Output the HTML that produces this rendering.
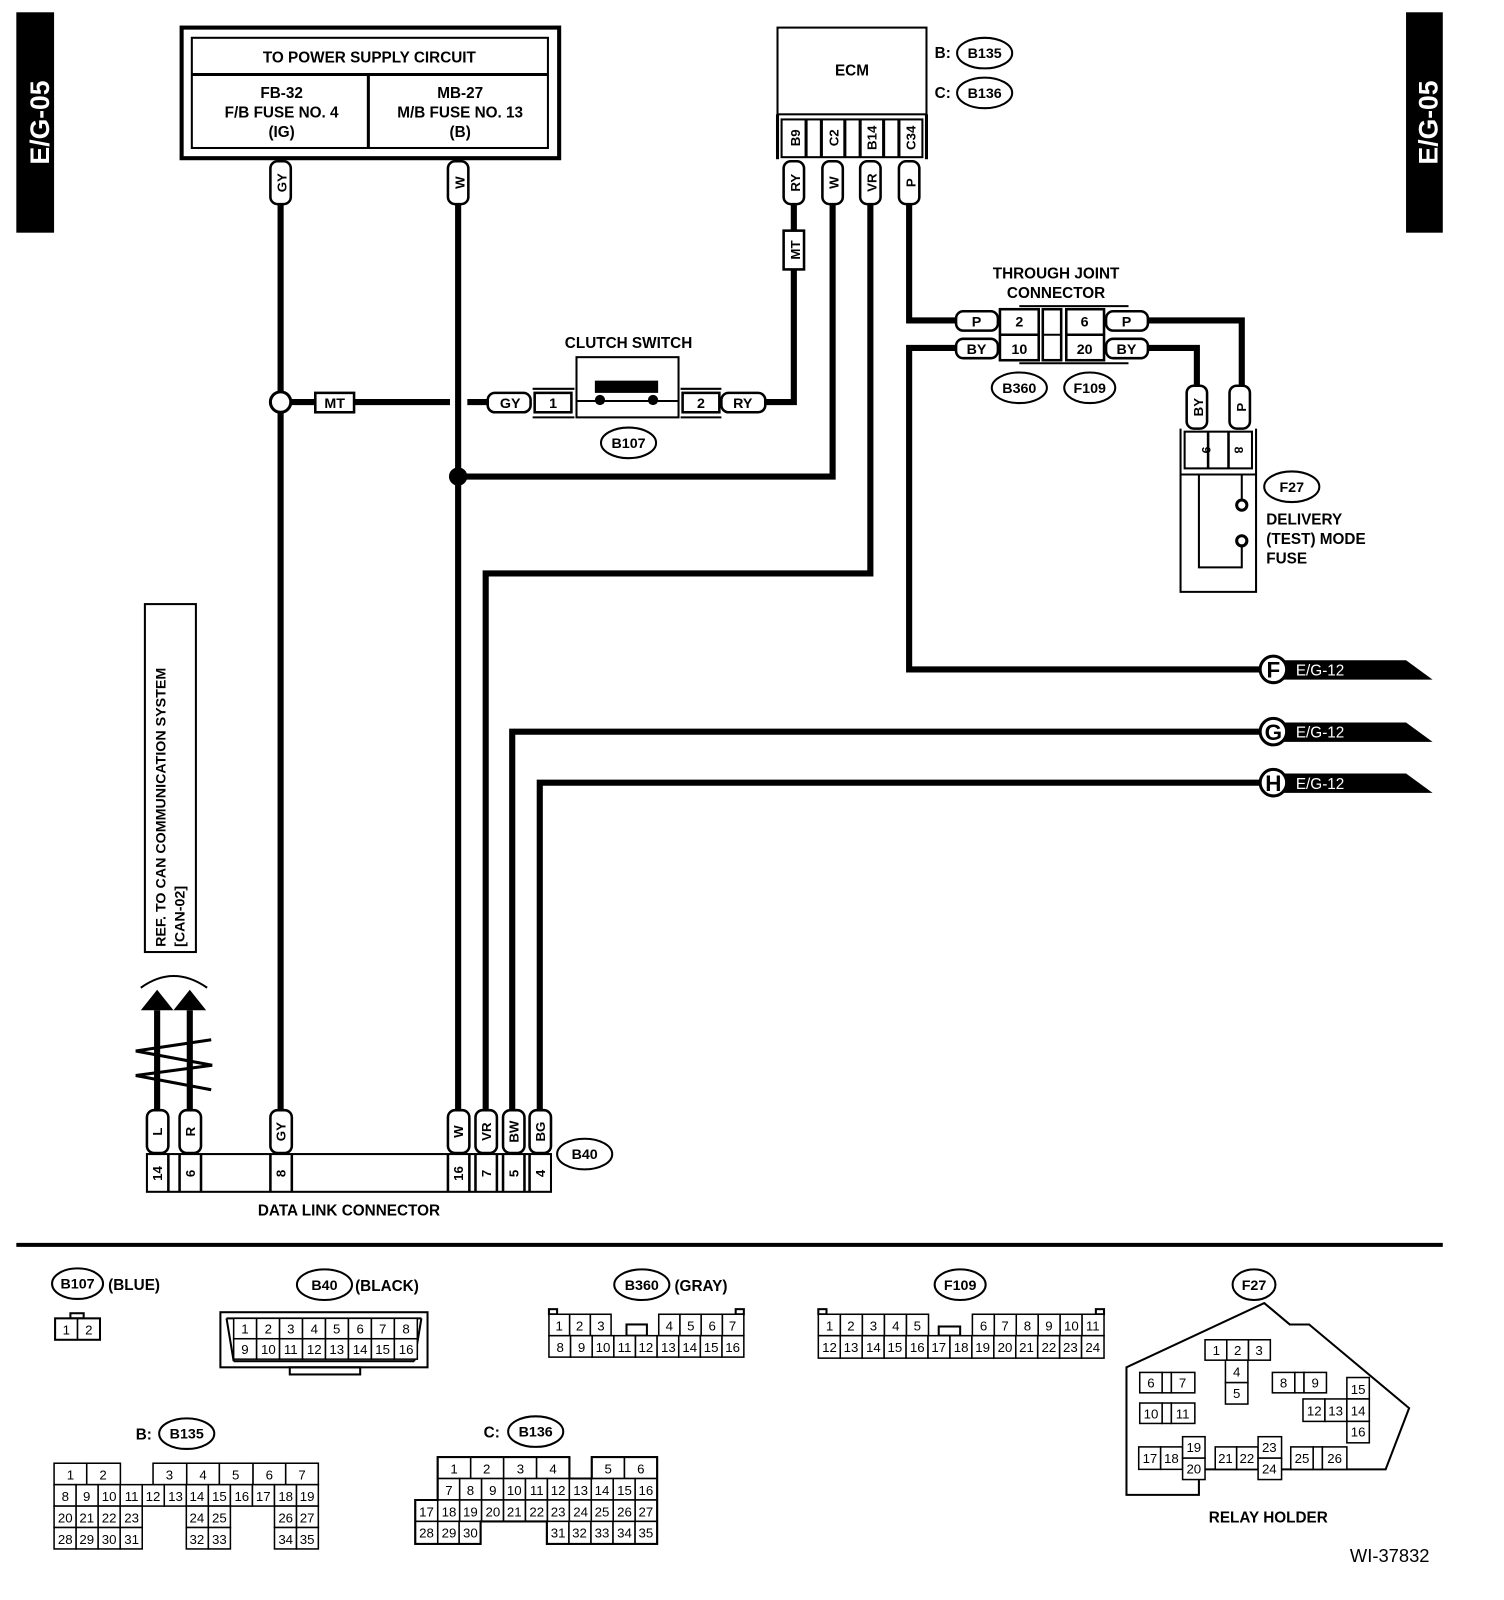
<!DOCTYPE html>
<html><head><meta charset="utf-8"><style>
html,body{margin:0;padding:0;background:#fff;}
svg{display:block}
text{font-family:"Liberation Sans",sans-serif;font-weight:bold;fill:#000}
.s{fill:none;stroke:#000;stroke-width:2}
.w{fill:none;stroke:#000;stroke-width:6}
.p{fill:#fff;stroke:#000;stroke-width:2.5}
.c rect{fill:#fff;stroke:#000;stroke-width:1.5}
.c text{font-weight:normal;font-size:13px;text-anchor:middle}
.m{text-anchor:middle}
</style></head><body>
<svg width="1504" height="1600" viewBox="0 0 1474 1568" xmlns="http://www.w3.org/2000/svg">
<!-- side tabs -->
<rect x="16" y="12" width="37" height="216" fill="#000"/>
<text transform="translate(48,120) rotate(-90)" class="m" font-size="26" style="fill:#fff">E/G-05</text>
<rect x="1378" y="12" width="36" height="216" fill="#000"/>
<text transform="translate(1409,120) rotate(-90)" class="m" font-size="26" style="fill:#fff">E/G-05</text>

<!-- power box -->
<rect x="178" y="27" width="370" height="128" fill="none" stroke="#000" stroke-width="4"/>
<rect x="188" y="37" width="349" height="108" class="s" stroke-width="3"/>
<line x1="188" y1="73" x2="537" y2="73" stroke="#000" stroke-width="3"/>
<line x1="361" y1="73" x2="361" y2="145" stroke="#000" stroke-width="3"/>
<text x="362" y="61" class="m" font-size="15">TO POWER SUPPLY CIRCUIT</text>
<text x="276" y="96" class="m" font-size="15">FB-32</text>
<text x="276" y="115" class="m" font-size="15">F/B FUSE NO. 4</text>
<text x="276" y="134" class="m" font-size="15">(IG)</text>
<text x="451" y="96" class="m" font-size="15">MB-27</text>
<text x="451" y="115" class="m" font-size="15">M/B FUSE NO. 13</text>
<text x="451" y="134" class="m" font-size="15">(B)</text>

<!-- main wires -->
<g class="w">
<polyline points="275,200 275,1088"/>
<polyline points="449,200 449,1088"/>
<polyline points="275,394 441,394"/>
<polyline points="458,394 480,394"/>
<polyline points="750,394 778,394 778,200"/>
<polyline points="816,200 816,467 449,467"/>
<polyline points="853,200 853,562 476,562 476,1088"/>
<polyline points="891,200 891,314 937,314"/>
<polyline points="937,341 891,341 891,656 1240,656"/>
<polyline points="1125,314 1217,314 1217,380"/>
<polyline points="1125,341 1173,341 1173,380"/>
<polyline points="1240,717 502,717 502,1088"/>
<polyline points="1240,767 529,767 529,1088"/>
<polyline points="154,990 154,1088"/>
<polyline points="186,990 186,1088"/>
</g>
<circle cx="275" cy="394" r="10" fill="#fff" stroke="#000" stroke-width="3"/>
<circle cx="449" cy="467" r="9" fill="#000"/>
<rect x="309" y="385" width="38" height="19" class="p"/>
<text x="328" y="400" class="m" font-size="14">MT</text>

<!-- vertical pills top -->
<g>
<rect x="265" y="158" width="20" height="42" rx="7" class="p"/>
<text transform="translate(281,179) rotate(-90)" class="m" font-size="13">GY</text>
<rect x="439" y="158" width="20" height="42" rx="7" class="p"/>
<text transform="translate(455,179) rotate(-90)" class="m" font-size="13">W</text>
<rect x="768" y="158" width="20" height="42" rx="7" class="p"/>
<text transform="translate(784,179) rotate(-90)" class="m" font-size="13">RY</text>
<rect x="806" y="158" width="20" height="42" rx="7" class="p"/>
<text transform="translate(822,179) rotate(-90)" class="m" font-size="13">W</text>
<rect x="843" y="158" width="20" height="42" rx="7" class="p"/>
<text transform="translate(859,179) rotate(-90)" class="m" font-size="13">VR</text>
<rect x="881" y="158" width="20" height="42" rx="7" class="p"/>
<text transform="translate(897,179) rotate(-90)" class="m" font-size="13">P</text>
<rect x="768" y="226" width="20" height="38" class="p"/>
<text transform="translate(784,245) rotate(-90)" class="m" font-size="13">MT</text>
</g>

<!-- ECM -->
<rect x="762" y="27" width="146" height="85" class="s" stroke-width="3"/>
<text x="835" y="74" class="m" font-size="15">ECM</text>
<line x1="762" y1="112" x2="762" y2="156" stroke="#000" stroke-width="3"/>
<line x1="908" y1="112" x2="908" y2="156" stroke="#000" stroke-width="3"/>
<rect x="766" y="117" width="138" height="37" class="s" stroke-width="3"/>
<line x1="790" y1="117" x2="790" y2="154" stroke="#000" stroke-width="3"/>
<line x1="805" y1="117" x2="805" y2="154" stroke="#000" stroke-width="3"/>
<line x1="828" y1="117" x2="828" y2="154" stroke="#000" stroke-width="3"/>
<line x1="843" y1="117" x2="843" y2="154" stroke="#000" stroke-width="3"/>
<line x1="866" y1="117" x2="866" y2="154" stroke="#000" stroke-width="3"/>
<line x1="881" y1="117" x2="881" y2="154" stroke="#000" stroke-width="3"/>
<text transform="translate(784,135) rotate(-90)" class="m" font-size="13">B9</text>
<text transform="translate(822,135) rotate(-90)" class="m" font-size="13">C2</text>
<text transform="translate(859,135) rotate(-90)" class="m" font-size="13">B14</text>
<text transform="translate(897,135) rotate(-90)" class="m" font-size="13">C34</text>
<text x="916" y="57" font-size="15">B:</text>
<ellipse cx="965" cy="52" rx="27" ry="15" class="s" stroke-width="2.5"/>
<text x="965" y="57" class="m" font-size="14">B135</text>
<text x="916" y="96" font-size="15">C:</text>
<ellipse cx="965" cy="91" rx="27" ry="15" class="s" stroke-width="2.5"/>
<text x="965" y="96" class="m" font-size="14">B136</text>

<!-- clutch switch -->
<text x="616" y="341" class="m" font-size="15">CLUTCH SWITCH</text>
<rect x="478" y="385" width="42" height="19" rx="7" class="p"/>
<text x="500" y="400" class="m" font-size="14">GY</text>
<line x1="522" y1="381" x2="563" y2="381" stroke="#000" stroke-width="2"/>
<line x1="522" y1="409" x2="563" y2="409" stroke="#000" stroke-width="2"/>
<rect x="524" y="385" width="36" height="19" class="p"/>
<text x="542" y="400" class="m" font-size="14">1</text>
<rect x="565" y="350" width="100" height="59" class="s" stroke-width="2.5"/>
<line x1="565" y1="393" x2="665" y2="393" stroke="#000" stroke-width="2"/>
<rect x="583" y="373" width="62" height="12" fill="#000"/>
<circle cx="588" cy="392" r="5" fill="#000"/><circle cx="640" cy="392" r="5" fill="#000"/>
<line x1="667" y1="381" x2="707" y2="381" stroke="#000" stroke-width="2"/>
<line x1="667" y1="409" x2="707" y2="409" stroke="#000" stroke-width="2"/>
<rect x="669" y="385" width="36" height="19" class="p"/>
<text x="687" y="400" class="m" font-size="14">2</text>
<rect x="707" y="385" width="43" height="19" rx="7" class="p"/>
<text x="728" y="400" class="m" font-size="14">RY</text>
<ellipse cx="616" cy="434" rx="27" ry="15" class="s" stroke-width="2.5"/>
<text x="616" y="439" class="m" font-size="14">B107</text>

<!-- through joint -->
<text x="1035" y="273" class="m" font-size="15">THROUGH JOINT</text>
<text x="1035" y="292" class="m" font-size="15">CONNECTOR</text>
<rect x="937" y="305" width="41" height="19" rx="7" class="p"/>
<text x="957" y="320" class="m" font-size="14">P</text>
<rect x="937" y="332" width="41" height="19" rx="7" class="p"/>
<text x="957" y="347" class="m" font-size="14">BY</text>
<rect x="1084" y="305" width="41" height="19" rx="7" class="p"/>
<text x="1104" y="320" class="m" font-size="14">P</text>
<rect x="1084" y="332" width="41" height="19" rx="7" class="p"/>
<text x="1104" y="347" class="m" font-size="14">BY</text>
<line x1="999" y1="300" x2="1106" y2="300" stroke="#000" stroke-width="2"/>
<line x1="999" y1="356" x2="1106" y2="356" stroke="#000" stroke-width="2"/>
<rect x="980" y="303" width="38" height="50" class="p"/>
<line x1="980" y1="328" x2="1018" y2="328" stroke="#000" stroke-width="2.5"/>
<rect x="1022" y="303" width="18" height="50" class="p"/>
<line x1="1022" y1="328" x2="1040" y2="328" stroke="#000" stroke-width="2"/>
<rect x="1045" y="303" width="37" height="50" class="p"/>
<line x1="1045" y1="328" x2="1082" y2="328" stroke="#000" stroke-width="2.5"/>
<text x="999" y="320" class="m" font-size="14">2</text>
<text x="999" y="347" class="m" font-size="14">10</text>
<text x="1063" y="320" class="m" font-size="14">6</text>
<text x="1063" y="347" class="m" font-size="14">20</text>
<ellipse cx="999" cy="380" rx="27" ry="15" class="s" stroke-width="2.5"/>
<text x="999" y="385" class="m" font-size="14">B360</text>
<ellipse cx="1068" cy="380" rx="25" ry="15" class="s" stroke-width="2.5"/>
<text x="1068" y="385" class="m" font-size="14">F109</text>

<!-- F27 -->
<rect x="1163" y="378" width="20" height="42" rx="7" class="p"/>
<text transform="translate(1179,399) rotate(-90)" class="m" font-size="13">BY</text>
<rect x="1205" y="378" width="20" height="42" rx="7" class="p"/>
<text transform="translate(1221,399) rotate(-90)" class="m" font-size="13">P</text>
<polyline points="1157,420 1157,580 1231,580 1231,420" class="s" stroke-width="2.5"/>
<rect x="1161" y="423" width="66" height="36" class="s" stroke-width="2.5"/>
<line x1="1184" y1="423" x2="1184" y2="459" stroke="#000" stroke-width="2.5"/>
<line x1="1204" y1="423" x2="1204" y2="459" stroke="#000" stroke-width="2.5"/>
<line x1="1157" y1="465" x2="1231" y2="465" stroke="#000" stroke-width="2"/>
<text transform="translate(1178,441) rotate(90)" class="m" font-size="12">9</text>
<text transform="translate(1210,441) rotate(90)" class="m" font-size="12">8</text>
<polyline points="1217,465 1217,490" class="s"/>
<circle cx="1217" cy="495" r="5" fill="#fff" stroke="#000" stroke-width="3"/>
<circle cx="1217" cy="530" r="5" fill="#fff" stroke="#000" stroke-width="3"/>
<polyline points="1217,535 1217,556 1175,556 1175,465" class="s"/>
<ellipse cx="1266" cy="477" rx="27" ry="15" class="s" stroke-width="2.5"/>
<text x="1266" y="482" class="m" font-size="14">F27</text>
<text x="1241" y="514" font-size="15">DELIVERY</text>
<text x="1241" y="533" font-size="15">(TEST) MODE</text>
<text x="1241" y="552" font-size="15">FUSE</text>

<!-- off-page connectors -->
<g>
<polygon points="1252,647 1378,647 1404,666 1252,666" fill="#000"/>
<circle cx="1248" cy="656" r="13" fill="#fff" stroke="#000" stroke-width="3"/>
<text x="1248" y="664" class="m" font-size="22">F</text>
<text x="1270" y="662" font-size="15" style="fill:#fff;font-weight:normal">E/G-12</text>
<polygon points="1252,708 1378,708 1404,727 1252,727" fill="#000"/>
<circle cx="1248" cy="717" r="13" fill="#fff" stroke="#000" stroke-width="3"/>
<text x="1248" y="725" class="m" font-size="22">G</text>
<text x="1270" y="723" font-size="15" style="fill:#fff;font-weight:normal">E/G-12</text>
<polygon points="1252,758 1378,758 1404,777 1252,777" fill="#000"/>
<circle cx="1248" cy="767" r="13" fill="#fff" stroke="#000" stroke-width="3"/>
<text x="1248" y="775" class="m" font-size="22">H</text>
<text x="1270" y="773" font-size="15" style="fill:#fff;font-weight:normal">E/G-12</text>
</g>

<!-- REF box -->
<rect x="142" y="592" width="50" height="341" class="s" stroke-width="3"/>
<text transform="translate(162,928) rotate(-90)" font-size="14">REF. TO CAN COMMUNICATION SYSTEM</text>
<text transform="translate(181,928) rotate(-90)" font-size="14">[CAN-02]</text>

<!-- CAN arrows -->
<path d="M138,968 Q170,945 203,968" class="s"/>
<polygon points="154,970 138,990 170,990" fill="#000"/>
<polygon points="186,970 170,990 202,990" fill="#000"/>
<g stroke="#000" stroke-width="3">
<line x1="133" y1="1030" x2="207" y2="1019"/>
<line x1="133" y1="1030" x2="208" y2="1044"/>
<line x1="133" y1="1054" x2="208" y2="1044"/>
<line x1="133" y1="1054" x2="207" y2="1068"/>
</g>

<!-- DLC -->
<rect x="144" y="1131" width="396" height="37" class="s" stroke-width="3"/>
<g class="p">
<rect x="144" y="1088" width="21" height="42" rx="7"/>
<rect x="176" y="1088" width="21" height="42" rx="7"/>
<rect x="265" y="1088" width="21" height="42" rx="7"/>
<rect x="439" y="1088" width="21" height="42" rx="7"/>
<rect x="466" y="1088" width="21" height="42" rx="7"/>
<rect x="493" y="1088" width="21" height="42" rx="7"/>
<rect x="519" y="1088" width="21" height="42" rx="7"/>
</g>
<g stroke="#000" stroke-width="2.5">
<line x1="165" y1="1131" x2="165" y2="1168"/><line x1="176" y1="1131" x2="176" y2="1168"/>
<line x1="197" y1="1131" x2="197" y2="1168"/><line x1="265" y1="1131" x2="265" y2="1168"/>
<line x1="286" y1="1131" x2="286" y2="1168"/><line x1="439" y1="1131" x2="439" y2="1168"/>
<line x1="460" y1="1131" x2="460" y2="1168"/><line x1="466" y1="1131" x2="466" y2="1168"/>
<line x1="487" y1="1131" x2="487" y2="1168"/><line x1="493" y1="1131" x2="493" y2="1168"/>
<line x1="514" y1="1131" x2="514" y2="1168"/><line x1="519" y1="1131" x2="519" y2="1168"/>
</g>
<g font-size="13">
<text transform="translate(159,1109) rotate(-90)" class="m">L</text>
<text transform="translate(191,1109) rotate(-90)" class="m">R</text>
<text transform="translate(280,1109) rotate(-90)" class="m">GY</text>
<text transform="translate(454,1109) rotate(-90)" class="m">W</text>
<text transform="translate(481,1109) rotate(-90)" class="m">VR</text>
<text transform="translate(508,1109) rotate(-90)" class="m">BW</text>
<text transform="translate(534,1109) rotate(-90)" class="m">BG</text>
<text transform="translate(159,1150) rotate(-90)" class="m">14</text>
<text transform="translate(191,1150) rotate(-90)" class="m">6</text>
<text transform="translate(280,1150) rotate(-90)" class="m">8</text>
<text transform="translate(454,1150) rotate(-90)" class="m">16</text>
<text transform="translate(481,1150) rotate(-90)" class="m">7</text>
<text transform="translate(508,1150) rotate(-90)" class="m">5</text>
<text transform="translate(534,1150) rotate(-90)" class="m">4</text>
</g>
<ellipse cx="573" cy="1131" rx="27" ry="15" class="s" stroke-width="2.5"/>
<text x="573" y="1136" class="m" font-size="14">B40</text>
<text x="342" y="1191" class="m" font-size="15">DATA LINK CONNECTOR</text>

<line x1="16" y1="1220" x2="1414" y2="1220" stroke="#000" stroke-width="4"/>

<!-- bottom: B107 -->
<ellipse cx="76" cy="1258" rx="25" ry="15" class="s" stroke-width="2.5"/>
<text x="76" y="1263" class="m" font-size="14">B107</text>
<text x="106" y="1264" font-size="15">(BLUE)</text>
<rect x="69" y="1287" width="13" height="5" class="s" stroke-width="1.5"/>
<g class="c"><rect x="54" y="1292" width="22" height="21"/><rect x="76" y="1292" width="22" height="21"/>
<text x="65" y="1308">1</text><text x="87" y="1308">2</text></g>
<rect x="54" y="1292" width="44" height="21" class="s" stroke-width="2.5"/>

<!-- B40 -->
<ellipse cx="318" cy="1259" rx="27" ry="15" class="s" stroke-width="2.5"/>
<text x="318" y="1264" class="m" font-size="14">B40</text>
<text x="348" y="1265" font-size="15">(BLACK)</text>
<rect x="216" y="1286" width="203" height="54" class="s" stroke-width="2.5"/>
<rect x="284" y="1340" width="69" height="7" class="s" stroke-width="2"/>
<path d="M222,1292 L229,1334 M413,1292 L406,1334 M222,1292 L413,1292 M229,1334 L406,1334" class="s" stroke-width="1.5"/>
<g class="c">
<rect x="229" y="1292" width="22.5" height="20"/><rect x="251.5" y="1292" width="22.5" height="20"/><rect x="274" y="1292" width="22.5" height="20"/><rect x="296.5" y="1292" width="22.5" height="20"/><rect x="319" y="1292" width="22.5" height="20"/><rect x="341.5" y="1292" width="22.5" height="20"/><rect x="364" y="1292" width="22.5" height="20"/><rect x="386.5" y="1292" width="22.5" height="20"/>
<rect x="229" y="1312" width="22.5" height="20"/><rect x="251.5" y="1312" width="22.5" height="20"/><rect x="274" y="1312" width="22.5" height="20"/><rect x="296.5" y="1312" width="22.5" height="20"/><rect x="319" y="1312" width="22.5" height="20"/><rect x="341.5" y="1312" width="22.5" height="20"/><rect x="364" y="1312" width="22.5" height="20"/><rect x="386.5" y="1312" width="22.5" height="20"/>
<text x="240" y="1307">1</text><text x="263" y="1307">2</text><text x="285" y="1307">3</text><text x="308" y="1307">4</text><text x="330" y="1307">5</text><text x="353" y="1307">6</text><text x="375" y="1307">7</text><text x="398" y="1307">8</text>
<text x="240" y="1327">9</text><text x="263" y="1327">10</text><text x="285" y="1327">11</text><text x="308" y="1327">12</text><text x="330" y="1327">13</text><text x="353" y="1327">14</text><text x="375" y="1327">15</text><text x="398" y="1327">16</text>
</g>

<!-- B360 -->
<ellipse cx="629" cy="1259" rx="27" ry="15" class="s" stroke-width="2.5"/>
<text x="629" y="1264" class="m" font-size="14">B360</text>
<text x="661" y="1265" font-size="15">(GRAY)</text>
<rect x="538" y="1283" width="8" height="5" class="s" stroke-width="1.5"/>
<rect x="721" y="1283" width="8" height="5" class="s" stroke-width="1.5"/>
<rect x="614" y="1298" width="20" height="11" class="s" stroke-width="1.5"/>
<g class="c">
<rect x="538" y="1288" width="20.3" height="21"/><rect x="558.3" y="1288" width="20.3" height="21"/><rect x="578.6" y="1288" width="20.3" height="21"/>
<rect x="645.6" y="1288" width="20.8" height="21"/><rect x="666.4" y="1288" width="20.8" height="21"/><rect x="687.2" y="1288" width="20.8" height="21"/><rect x="708" y="1288" width="21" height="21"/>
<rect x="538" y="1309" width="21.2" height="21"/><rect x="559.2" y="1309" width="21.2" height="21"/><rect x="580.4" y="1309" width="21.2" height="21"/><rect x="601.6" y="1309" width="21.2" height="21"/><rect x="622.8" y="1309" width="21.2" height="21"/><rect x="644" y="1309" width="21.2" height="21"/><rect x="665.2" y="1309" width="21.2" height="21"/><rect x="686.4" y="1309" width="21.2" height="21"/><rect x="707.6" y="1309" width="21.4" height="21"/>
<text x="548" y="1304">1</text><text x="568" y="1304">2</text><text x="589" y="1304">3</text><text x="656" y="1304">4</text><text x="677" y="1304">5</text><text x="698" y="1304">6</text><text x="718" y="1304">7</text>
<text x="549" y="1325">8</text><text x="570" y="1325">9</text><text x="591" y="1325">10</text><text x="612" y="1325">11</text><text x="633" y="1325">12</text><text x="655" y="1325">13</text><text x="676" y="1325">14</text><text x="697" y="1325">15</text><text x="718" y="1325">16</text>
</g>

<!-- F109 -->
<ellipse cx="941" cy="1259" rx="25" ry="15" class="s" stroke-width="2.5"/>
<text x="941" y="1264" class="m" font-size="14">F109</text>
<rect x="802" y="1283" width="8" height="5" class="s" stroke-width="1.5"/>
<rect x="1074" y="1283" width="8" height="5" class="s" stroke-width="1.5"/>
<rect x="920" y="1300" width="21" height="9" class="s" stroke-width="1.5"/>
<g class="c">
<rect x="802" y="1288" width="21.6" height="21"/><rect x="823.6" y="1288" width="21.6" height="21"/><rect x="845.2" y="1288" width="21.6" height="21"/><rect x="866.8" y="1288" width="21.6" height="21"/><rect x="888.4" y="1288" width="21.6" height="21"/>
<rect x="953" y="1288" width="21.5" height="21"/><rect x="974.5" y="1288" width="21.5" height="21"/><rect x="996" y="1288" width="21.5" height="21"/><rect x="1017.5" y="1288" width="21.5" height="21"/><rect x="1039" y="1288" width="21.5" height="21"/><rect x="1060.5" y="1288" width="21.5" height="21"/>
<rect x="802" y="1309" width="21.5" height="22"/><rect x="823.5" y="1309" width="21.5" height="22"/><rect x="845" y="1309" width="21.5" height="22"/><rect x="866.5" y="1309" width="21.5" height="22"/><rect x="888" y="1309" width="21.5" height="22"/><rect x="909.5" y="1309" width="21.5" height="22"/><rect x="931" y="1309" width="21.5" height="22"/><rect x="952.5" y="1309" width="21.5" height="22"/><rect x="974" y="1309" width="21.5" height="22"/><rect x="995.5" y="1309" width="21.5" height="22"/><rect x="1017" y="1309" width="21.5" height="22"/><rect x="1038.5" y="1309" width="21.5" height="22"/><rect x="1060" y="1309" width="22" height="22"/>
<text x="813" y="1304">1</text><text x="834" y="1304">2</text><text x="856" y="1304">3</text><text x="878" y="1304">4</text><text x="899" y="1304">5</text>
<text x="964" y="1304">6</text><text x="985" y="1304">7</text><text x="1007" y="1304">8</text><text x="1028" y="1304">9</text><text x="1050" y="1304">10</text><text x="1071" y="1304">11</text>
<text x="813" y="1325">12</text><text x="834" y="1325">13</text><text x="856" y="1325">14</text><text x="877" y="1325">15</text><text x="899" y="1325">16</text><text x="920" y="1325">17</text><text x="942" y="1325">18</text><text x="963" y="1325">19</text><text x="985" y="1325">20</text><text x="1006" y="1325">21</text><text x="1028" y="1325">22</text><text x="1049" y="1325">23</text><text x="1071" y="1325">24</text>
</g>

<!-- F27 relay holder -->
<ellipse cx="1229" cy="1259" rx="21" ry="15" class="s" stroke-width="2.5"/>
<text x="1229" y="1264" class="m" font-size="14">F27</text>
<polygon points="1104,1340 1239,1277 1264,1298 1283,1298 1381,1380 1358,1440 1175,1440 1175,1465 1104,1465" class="s" stroke-width="2.5"/>
<g class="c">
<rect x="1181" y="1313" width="21.3" height="20"/><rect x="1202.3" y="1313" width="21.3" height="20"/><rect x="1223.6" y="1313" width="21.4" height="20"/>
<rect x="1201" y="1333" width="22" height="22"/><rect x="1201" y="1355" width="22" height="21"/>
<rect x="1117" y="1345" width="22" height="20"/><rect x="1139" y="1345" width="9" height="20"/><rect x="1148" y="1345" width="23" height="20"/>
<rect x="1117" y="1375" width="22" height="20"/><rect x="1139" y="1375" width="9" height="20"/><rect x="1148" y="1375" width="23" height="20"/>
<rect x="1247" y="1345" width="22" height="20"/><rect x="1269" y="1345" width="9" height="20"/><rect x="1278" y="1345" width="22" height="20"/>
<rect x="1320" y="1350" width="22" height="21"/><rect x="1277" y="1371" width="21.5" height="22"/><rect x="1298.5" y="1371" width="21.5" height="22"/><rect x="1320" y="1371" width="22" height="22"/><rect x="1320" y="1393" width="22" height="21"/>
<rect x="1116" y="1418" width="21.5" height="22"/><rect x="1137.5" y="1418" width="21.5" height="22"/><rect x="1159" y="1408" width="22" height="21"/><rect x="1159" y="1429" width="22" height="21"/>
<rect x="1191" y="1418" width="21" height="22"/><rect x="1212" y="1418" width="21" height="22"/><rect x="1233" y="1408" width="23" height="21"/><rect x="1233" y="1429" width="23" height="21"/>
<rect x="1265" y="1418" width="22" height="22"/><rect x="1287" y="1418" width="9" height="22"/><rect x="1296" y="1418" width="24" height="22"/>
<text x="1192" y="1328">1</text><text x="1213" y="1328">2</text><text x="1234" y="1328">3</text>
<text x="1212" y="1349">4</text><text x="1212" y="1370">5</text>
<text x="1128" y="1360">6</text><text x="1159" y="1360">7</text><text x="1128" y="1390">10</text><text x="1159" y="1390">11</text>
<text x="1258" y="1360">8</text><text x="1289" y="1360">9</text>
<text x="1331" y="1366">15</text><text x="1288" y="1387">12</text><text x="1309" y="1387">13</text><text x="1331" y="1387">14</text><text x="1331" y="1408">16</text>
<text x="1127" y="1434">17</text><text x="1148" y="1434">18</text><text x="1170" y="1423">19</text><text x="1170" y="1444">20</text>
<text x="1201" y="1434">21</text><text x="1222" y="1434">22</text><text x="1244" y="1423">23</text><text x="1244" y="1444">24</text>
<text x="1276" y="1434">25</text><text x="1308" y="1434">26</text>
</g>
<text x="1243" y="1492" class="m" font-size="15">RELAY HOLDER</text>
<text x="1362" y="1531" class="m" font-size="18" style="font-weight:normal">WI-37832</text>

<!-- B135 -->
<text x="133" y="1411" font-size="15">B:</text>
<ellipse cx="183" cy="1405" rx="27" ry="15" class="s" stroke-width="2.5"/>
<text x="183" y="1410" class="m" font-size="14">B135</text>
<g class="c">
<rect x="53" y="1434" width="32" height="21"/><rect x="85" y="1434" width="33" height="21"/>
<rect x="150" y="1434" width="33" height="21"/><rect x="183" y="1434" width="32" height="21"/><rect x="215" y="1434" width="33" height="21"/><rect x="248" y="1434" width="32" height="21"/><rect x="280" y="1434" width="32" height="21"/>
<rect x="53" y="1455" width="21.6" height="21"/><rect x="74.6" y="1455" width="21.6" height="21"/><rect x="96.2" y="1455" width="21.6" height="21"/><rect x="117.8" y="1455" width="21.6" height="21"/><rect x="139.4" y="1455" width="21.6" height="21"/><rect x="161" y="1455" width="21.6" height="21"/><rect x="182.6" y="1455" width="21.6" height="21"/><rect x="204.2" y="1455" width="21.6" height="21"/><rect x="225.8" y="1455" width="21.6" height="21"/><rect x="247.4" y="1455" width="21.6" height="21"/><rect x="269" y="1455" width="21.6" height="21"/><rect x="290.6" y="1455" width="21.4" height="21"/>
<rect x="53" y="1476" width="21.6" height="21"/><rect x="74.6" y="1476" width="21.6" height="21"/><rect x="96.2" y="1476" width="21.6" height="21"/><rect x="117.8" y="1476" width="21.6" height="21"/>
<rect x="182.6" y="1476" width="21.6" height="21"/><rect x="204.2" y="1476" width="21.6" height="21"/><rect x="269" y="1476" width="21.6" height="21"/><rect x="290.6" y="1476" width="21.4" height="21"/>
<rect x="53" y="1497" width="21.6" height="21"/><rect x="74.6" y="1497" width="21.6" height="21"/><rect x="96.2" y="1497" width="21.6" height="21"/><rect x="117.8" y="1497" width="21.6" height="21"/>
<rect x="182.6" y="1497" width="21.6" height="21"/><rect x="204.2" y="1497" width="21.6" height="21"/><rect x="269" y="1497" width="21.6" height="21"/><rect x="290.6" y="1497" width="21.4" height="21"/>
<text x="69" y="1450">1</text><text x="101" y="1450">2</text><text x="166" y="1450">3</text><text x="199" y="1450">4</text><text x="231" y="1450">5</text><text x="264" y="1450">6</text><text x="296" y="1450">7</text>
<text x="64" y="1471">8</text><text x="85" y="1471">9</text><text x="107" y="1471">10</text><text x="129" y="1471">11</text><text x="150" y="1471">12</text><text x="172" y="1471">13</text><text x="193" y="1471">14</text><text x="215" y="1471">15</text><text x="237" y="1471">16</text><text x="258" y="1471">17</text><text x="280" y="1471">18</text><text x="301" y="1471">19</text>
<text x="64" y="1492">20</text><text x="85" y="1492">21</text><text x="107" y="1492">22</text><text x="129" y="1492">23</text><text x="193" y="1492">24</text><text x="215" y="1492">25</text><text x="280" y="1492">26</text><text x="301" y="1492">27</text>
<text x="64" y="1513">28</text><text x="85" y="1513">29</text><text x="107" y="1513">30</text><text x="129" y="1513">31</text><text x="193" y="1513">32</text><text x="215" y="1513">33</text><text x="280" y="1513">34</text><text x="301" y="1513">35</text>
</g>

<!-- B136 -->
<text x="474" y="1409" font-size="15">C:</text>
<ellipse cx="525" cy="1403" rx="27" ry="15" class="s" stroke-width="2.5"/>
<text x="525" y="1408" class="m" font-size="14">B136</text>
<path d="M429,1428 H558 V1449 H580 V1428 H644 V1513 H536 V1491 H471 V1513 H407 V1470 H429 Z" class="s" stroke-width="3"/>
<g class="c">
<rect x="429" y="1428" width="32.3" height="21"/><rect x="461.3" y="1428" width="32.3" height="21"/><rect x="493.6" y="1428" width="32.3" height="21"/><rect x="525.9" y="1428" width="32.1" height="21"/>
<rect x="580" y="1428" width="32" height="21"/><rect x="612" y="1428" width="32" height="21"/>
<rect x="429" y="1449" width="21.5" height="21"/><rect x="450.5" y="1449" width="21.5" height="21"/><rect x="472" y="1449" width="21.5" height="21"/><rect x="493.5" y="1449" width="21.5" height="21"/><rect x="515" y="1449" width="21.5" height="21"/><rect x="536.5" y="1449" width="21.5" height="21"/><rect x="558" y="1449" width="21.5" height="21"/><rect x="579.5" y="1449" width="21.5" height="21"/><rect x="601" y="1449" width="21.5" height="21"/><rect x="622.5" y="1449" width="21.5" height="21"/>
<rect x="407" y="1470" width="22" height="21"/><rect x="429" y="1470" width="21.5" height="21"/><rect x="450.5" y="1470" width="21.5" height="21"/><rect x="472" y="1470" width="21.5" height="21"/><rect x="493.5" y="1470" width="21.5" height="21"/><rect x="515" y="1470" width="21.5" height="21"/><rect x="536.5" y="1470" width="21.5" height="21"/><rect x="558" y="1470" width="21.5" height="21"/><rect x="579.5" y="1470" width="21.5" height="21"/><rect x="601" y="1470" width="21.5" height="21"/><rect x="622.5" y="1470" width="21.5" height="21"/>
<rect x="407" y="1491" width="22" height="22"/><rect x="429" y="1491" width="21" height="22"/><rect x="450" y="1491" width="21" height="22"/>
<rect x="536" y="1491" width="21.6" height="22"/><rect x="557.6" y="1491" width="21.6" height="22"/><rect x="579.2" y="1491" width="21.6" height="22"/><rect x="600.8" y="1491" width="21.6" height="22"/><rect x="622.4" y="1491" width="21.6" height="22"/>
<text x="445" y="1444">1</text><text x="477" y="1444">2</text><text x="510" y="1444">3</text><text x="542" y="1444">4</text><text x="596" y="1444">5</text><text x="628" y="1444">6</text>
<text x="440" y="1465">7</text><text x="461" y="1465">8</text><text x="483" y="1465">9</text><text x="504" y="1465">10</text><text x="526" y="1465">11</text><text x="547" y="1465">12</text><text x="569" y="1465">13</text><text x="590" y="1465">14</text><text x="612" y="1465">15</text><text x="633" y="1465">16</text>
<text x="418" y="1486">17</text><text x="440" y="1486">18</text><text x="461" y="1486">19</text><text x="483" y="1486">20</text><text x="504" y="1486">21</text><text x="526" y="1486">22</text><text x="547" y="1486">23</text><text x="569" y="1486">24</text><text x="590" y="1486">25</text><text x="612" y="1486">26</text><text x="633" y="1486">27</text>
<text x="418" y="1507">28</text><text x="440" y="1507">29</text><text x="461" y="1507">30</text><text x="547" y="1507">31</text><text x="568" y="1507">32</text><text x="590" y="1507">33</text><text x="612" y="1507">34</text><text x="633" y="1507">35</text>
</g>
<path d="M429,1428 H558 V1449 H580 V1428 H644 V1513 H536 V1491 H471 V1513 H407 V1470 H429 Z" class="s" stroke-width="3"/>
</svg>
</body></html>
